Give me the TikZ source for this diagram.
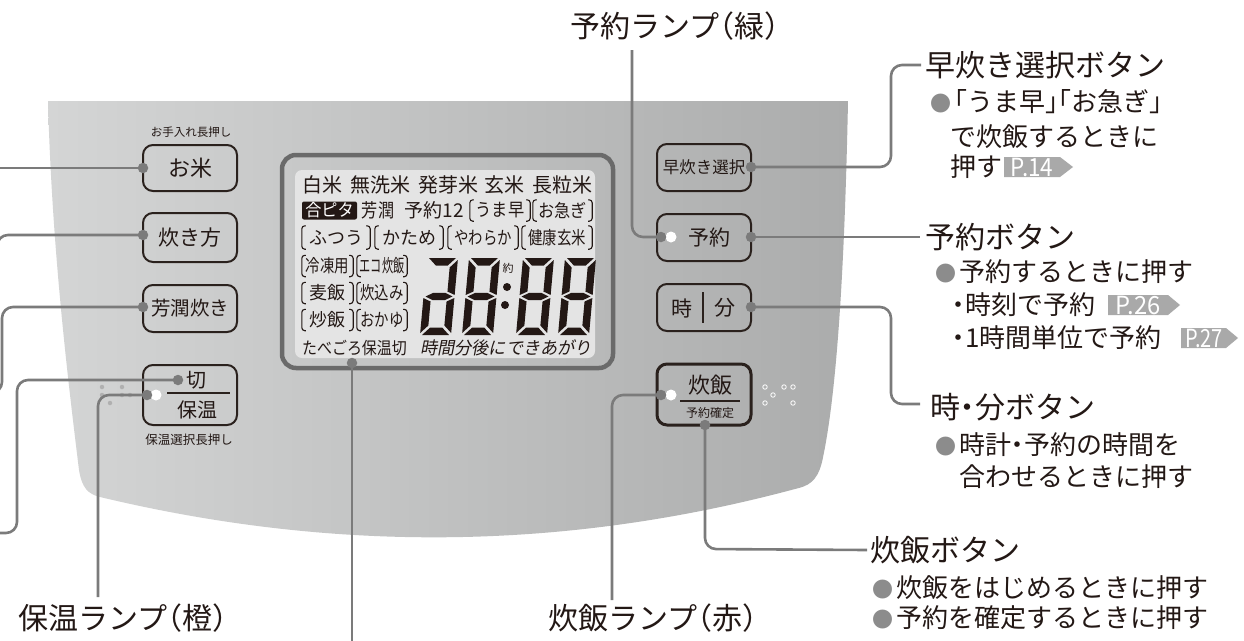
\documentclass[tikz,border=0pt]{standalone}
\usepackage{fontspec}
\usepackage{graphicx}
\newfontfamily\jp{Noto Sans CJK JP}
\newfontfamily\jph{Noto Sans CJK JP}[RawFeature=+halt]
\newfontfamily\jpit{Noto Sans CJK JP}[FakeSlant=0.2]
\definecolor{txtc}{HTML}{231815}
\definecolor{connc}{HTML}{7B7B7B}
\definecolor{bulc}{HTML}{8C8C8C}
\definecolor{tagc}{HTML}{A9A9A9}
\definecolor{btnc}{HTML}{2A211D}
\definecolor{lcdframe}{HTML}{6A6A6A}
\definecolor{lcdscreen}{HTML}{E4E4E4}
\definecolor{lcdc}{HTML}{231815}
\definecolor{panL}{HTML}{D4D5D5}
\definecolor{panR}{HTML}{ABACAC}
\definecolor{brl}{HTML}{B0B0B0}
\newcommand\fsz[1]{\fontsize{#1}{#1}\selectfont}
\newcommand\bul{{\color{bulc}\fsz{21}●}\hspace{3pt}}
\newcommand\sgA{\fill[seg] (2,0) -- (29,0) -- (21.5,7.5) -- (9.5,7.5) -- cycle;}
\newcommand\sgB{\fill[seg] (31,2) -- (31,37) -- (23.5,33.5) -- (23.5,9.5) -- cycle;}
\newcommand\sgC{\fill[seg] (31,40) -- (31,75) -- (23.5,67.5) -- (23.5,43.5) -- cycle;}
\newcommand\sgD{\fill[seg] (2,77) -- (29,77) -- (21.5,69.5) -- (9.5,69.5) -- cycle;}
\newcommand\sgE{\fill[seg] (0,40) -- (0,75) -- (7.5,67.5) -- (7.5,43.5) -- cycle;}
\newcommand\sgF{\fill[seg] (0,2) -- (0,37) -- (7.5,33.5) -- (7.5,9.5) -- cycle;}
\newcommand\sgG{\fill[seg] (2,38.5) -- (9.5,34.8) -- (21.5,34.8) -- (29,38.5) -- (21.5,42.2) -- (9.5,42.2) -- cycle;}
\newcommand\digitAt[2]{\begin{scope}[shift={(#1,258)}, xslant=0.091] #2 \end{scope}}
% bracketed LCD label: name, cx, cy, box width, box height, xscale, text
\newcommand\lcdb[7]{%
  \node[lcdt, minimum width=#4pt, minimum height=#5pt] (#1) at (#2,#3) {\scalebox{#6}[1]{#7}};
  \draw[brk] ([xshift=4pt]#1.north west) -- (#1.north west) -- (#1.south west) -- ([xshift=4pt]#1.south west);
  \draw[brk] ([xshift=-4pt]#1.north east) -- (#1.north east) -- (#1.south east) -- ([xshift=-4pt]#1.south east);}
\begin{document}
\begin{tikzpicture}[x=1pt,y=-1pt,
  conn/.style={draw=connc, line width=2.6pt, rounded corners=11pt},
  dot/.style={circle, fill=connc, inner sep=0pt, minimum size=10.5pt},
  lamp/.style={circle, fill=white, inner sep=0pt, minimum size=11pt},
  btn/.style={draw=btnc, line width=2pt, rounded corners=10pt, inner sep=0pt, minimum width=94pt, text=txtc, font=\jp\fsz{21}},
  btntxt/.style={inner sep=0pt, text=txtc, font=\jp\fsz{21}},
  small/.style={inner sep=0pt, text=txtc, font=\jp\fsz{12}},
  head/.style={anchor=west, inner sep=0pt, text=txtc, font=\jph\fsz{30}},
  headc/.style={inner sep=0pt, text=txtc, font=\jph\fsz{30}},
  body/.style={anchor=west, inner sep=0pt, text=txtc, font=\jph\fsz{26}},
  lcdt/.style={inner sep=0pt, text=lcdc, font=\jp\fsz{18}},
  brk/.style={draw=lcdc, line width=1.1pt, rounded corners=3pt},
  seg/.style={fill=lcdc},
  tagt/.style={inner sep=0pt, text=white, font=\jp\fsz{25}},
  brail/.style={circle, fill=brl, inner sep=0pt, minimum size=4.5pt},
  brailw/.style={circle, draw=white, line width=0.8pt, inner sep=0pt, minimum size=4.5pt}]
\useasboundingbox (0,0) rectangle (1244,640);
\fill[white] (0,0) rectangle (1244,640);

% ---------- panel ----------
\shade[left color=panL, right color=panR] (48,101) -- (848,101)
  .. controls (845,250) and (838,390) .. (822,462)
  .. controls (817,482) and (808,486) .. (795,489)
  .. controls (560,552) and (330,552) .. (100,497)
  .. controls (88,494) and (82,488) .. (79,470)
  .. controls (68,380) and (52,250) .. (48,101) -- cycle;

% braille-like dots
\foreach \px/\py [count=\i] in {102/387,122/387,102/395,122/395,130/395,110/403}
  \node[brail] (bl\i) at (\px,\py) {};
\foreach \px/\py [count=\i] in {765/387,784/387,793/387,773/395,765/403,793/403}
  \node[brailw] (br\i) at (\px,\py) {};

% ---------- LCD ----------
\node[draw=lcdframe, line width=4.5pt, rounded corners=14pt, minimum width=331pt, minimum height=213pt, inner sep=0pt] (lcd) at (447.5,261.5) {};
\node[fill=lcdscreen, rounded corners=7pt, minimum width=300pt, minimum height=188pt, inner sep=0pt] (screen) at (445,264) {};

% row 1
\node[lcdt, font=\jp\fsz{20}] (r1a) at (322,185) {白米};
\node[lcdt, font=\jp\fsz{20}] (r1b) at (380,185) {無洗米};
\node[lcdt, font=\jp\fsz{20}] (r1c) at (448,185) {発芽米};
\node[lcdt, font=\jp\fsz{20}] (r1d) at (504,185) {玄米};
\node[lcdt, font=\jp\fsz{20}] (r1e) at (562,185) {長粒米};
% row 2
\node[fill=lcdc, rounded corners=2pt, minimum width=55pt, minimum height=18pt, inner sep=0pt, text=white, font=\jp\fsz{17}] (gopita) at (329.5,210.5) {\scalebox{0.95}[1]{合ピタ}};
\node[lcdt, font=\jp\fsz{19}] (houjunl) at (378,210.5) {\scalebox{0.85}[1]{芳潤}};
\node[lcdt, font=\jp\fsz{19}] (yoyaku12) at (434,210.5) {予約12};
\lcdb{umahaya}{500}{210.5}{60}{21}{0.9}{うま早}
\lcdb{oisogi}{562.5}{210.5}{59}{21}{0.9}{お急ぎ}
% row 3
\lcdb{futsuu}{336}{237.5}{68}{23}{1}{ふつう}
\lcdb{katame}{409}{237.5}{68}{23}{1}{かため}
\lcdb{yawaraka}{483}{237.5}{70}{23}{0.8}{やわらか}
\lcdb{kenkou}{557}{237.5}{70}{23}{0.8}{健康玄米}
% rows 4-6
\lcdb{reitou}{327.5}{266}{51}{21}{0.8}{冷凍用}
\lcdb{eco}{382}{266}{50}{21}{0.62}{エコ炊飯}
\lcdb{mugi}{327.5}{293}{51}{21}{1}{麦飯}
\lcdb{takikomi}{382}{293}{50}{21}{0.8}{炊込み}
\lcdb{chahan}{327.5}{320}{51}{21}{1}{炒飯}
\lcdb{okayu}{382}{320}{50}{21}{0.8}{おかゆ}
% row 7
\node[lcdt, font=\jp\fsz{17}] (tabegoro) at (354.5,348) {\scalebox{0.88}[1]{たべごろ保温切}};
\node[lcdt, font=\jpit\fsz{17.5}] (dekiagari) at (506,348) {\scalebox{0.98}[1]{時間分後にできあがり}};
% big digits
\digitAt{427}{\sgA\sgB\sgC\sgD\sgE\sgG}
\digitAt{469}{\sgA\sgB\sgC\sgD\sgE\sgF\sgG}
\digitAt{523}{\sgA\sgB\sgC\sgD\sgE\sgF\sgG}
\digitAt{565}{\sgA\sgB\sgC\sgD\sgE\sgF\sgG}
\node[lcdt, font=\jp\fsz{11}] (yaku) at (508,268) {約};
\fill[lcdc] (507,287) circle (4);
\fill[lcdc] (505,305) circle (4);

% ---------- buttons ----------
\node[btn, minimum height=46pt, font=\jp\fsz{22}] (b-okome) at (190,168) {お米};
\node[btn, minimum height=49pt] (b-takikata) at (190,237.5) {炊き方};
\node[btn, minimum height=47pt, font=\jp\fsz{19.5}] (b-houjun) at (190,308.5) {芳潤炊き};
\node[btn, minimum height=60pt] (b-kiri) at (190,395) {};
\node[btntxt, font=\jp\fsz{20}] (t-kiri) at (196,380) {切};
\draw[btnc, line width=1.5pt] (167,393) -- (230,393);
\node[btntxt, font=\jp\fsz{20}] (t-hoon) at (197,410) {保温};
\node[small, font=\jp\fsz{11.5}] (t-oteire) at (191,132) {お手入れ長押し};
\node[small, font=\jp\fsz{12.5}] (t-hoonsel) at (189,440) {保温選択長押し};

\node[btn, minimum height=47pt, font=\jp\fsz{16.5}] (b-haya) at (704,167.5) {早炊き選択};
\node[btn, minimum height=47pt] (b-yoyaku) at (704,237.5) {};
\node[btntxt] (t-yoyaku) at (709,238) {予約};
\node[btn, minimum height=47pt] (b-jifun) at (704,307.5) {};
\node[btntxt] (t-ji) at (682,308) {時};
\draw[btnc, line width=2.5pt] (703,292) -- (703,323);
\node[btntxt] (t-fun) at (725,308) {分};
\node[btn, line width=3pt, minimum height=61pt] (b-suihan) at (704,394.5) {};
\node[btntxt, font=\jp\fsz{22}] (t-suihan) at (710,385) {炊飯};
\draw[btnc, line width=1.6pt] (680,401) -- (740,401);
\node[small] (t-kakutei) at (710,413) {予約確定};

% ---------- labels ----------
\node[headc] (l-yoyakulamp) at (675,26) {予約ランプ（緑）};
\node[headc] (l-hoonlamp) at (123,618) {保温ランプ（橙）};
\node[headc] (l-suihanlamp) at (653,618) {炊飯ランプ（赤）};
\node[head] (l-haya) at (925,65) {早炊き選択ボタン};
\node[head] (l-yoyaku) at (925,237) {予約ボタン};
\node[head] (l-jifun) at (930,407) {時・分ボタン};
\node[head] (l-suihan) at (870,550) {炊飯ボタン};

\node[body] (x-haya1) at (930,102) {\bul「うま早」「お急ぎ」};
\node[body] (x-haya2) at (950,137) {で炊飯するときに};
\node[body] (x-haya3) at (950,167) {押す};
\fill[tagc] (1004,157) -- (1060,157) -- (1073,167) -- (1060,177) -- (1004,177) -- cycle;
\node[tagt] (p14) at (1032,167) {\scalebox{0.9}[1]{P.14}};

\node[body] (x-yoy1) at (935,272) {\bul 予約するときに押す};
\node[body] (x-yoy2) at (952,305) {・時刻で予約};
\fill[tagc] (1108,295) -- (1168,295) -- (1180,305) -- (1168,315) -- (1108,315) -- cycle;
\node[tagt] (p26) at (1138,305) {\scalebox{0.95}[1]{P.26}};
\node[body] (x-yoy3) at (952,338) {・1時間単位で予約};
\fill[tagc] (1181,328) -- (1226,328) -- (1238,338) -- (1226,348) -- (1181,348) -- cycle;
\node[tagt] (p27) at (1204,338) {\scalebox{0.8}[1]{P.27}};

\node[body] (x-jf1) at (935,445) {\bul 時計・予約の時間を};
\node[body] (x-jf2) at (959,477) {合わせるときに押す};

\node[body] (x-sh1) at (872,588) {\bul 炊飯をはじめるときに押す};
\node[body] (x-sh2) at (872,618) {\bul 予約を確定するときに押す};

% ---------- connectors ----------
\coordinate (p-okome) at (143,168);
\coordinate (p-takikata) at (143,235);
\coordinate (p-houjun) at (143,307);
\coordinate (p-kiri) at (178,380);
\coordinate (p-hoonlamp) at (147,395);
\coordinate (p-haya) at (751,167);
\coordinate (p-yoyaku) at (751,237);
\coordinate (p-jifun) at (751,307);
\coordinate (p-yoyakulamp) at (661,237);
\coordinate (p-suihanlamp) at (661,395);
\coordinate (p-suihan) at (705,425);
\coordinate (p-lcd) at (352,363);

\coordinate (e-okome) at (-5,168);
\coordinate (e-takikata) at (-3,300);
\coordinate (e-houjun) at (-12,393);
\coordinate (e-kiri) at (-5,533);
\coordinate (e-lcd) at (352,645);

\draw[conn] (p-okome) -- (e-okome);
\draw[conn] (p-takikata) -- (-3,235) -- (e-takikata);
\draw[conn] (p-houjun) -- (2,307) -- (2,393) -- (e-houjun);
\draw[conn] (p-kiri) -- (17,380) -- (17,533) -- (e-kiri);
\draw[conn] (p-hoonlamp) -- (98,395) -- (98,597);
\draw[conn] (p-lcd) -- (e-lcd);
\draw[conn] (p-suihanlamp) -- (612,395) -- (612,600);
\draw[conn] (p-yoyakulamp) -- (632,237) -- (632,50);
\draw[conn] (p-haya) -- (891,167) -- (891,65) -- ([xshift=-4pt]l-haya.west);
\draw[conn] (p-yoyaku) -- ([xshift=-5pt]l-yoyaku.west);
\draw[conn] (p-jifun) -- (891,307) -- (891,404) -- ([xshift=-10pt]l-jifun.west |- 0,404);
\draw[conn] (p-suihan) -- (705,549) -- ([xshift=-3pt]l-suihan.west);

% dots and lamps
\node[lamp] (lamp-hoon) at (156,395) {};
\node[lamp] (lamp-yoyaku) at (671,237) {};
\node[lamp] (lamp-suihan) at (671,395) {};
\node[dot] (d-okome) at (p-okome) {};
\node[dot] (d-takikata) at (p-takikata) {};
\node[dot] (d-houjun) at (p-houjun) {};
\node[dot] (d-kiri) at (p-kiri) {};
\node[dot] (d-hoonlamp) at (p-hoonlamp) {};
\node[dot] (d-haya) at (p-haya) {};
\node[dot] (d-yoyaku) at (p-yoyaku) {};
\node[dot] (d-jifun) at (p-jifun) {};
\node[dot] (d-yoyakulamp) at (p-yoyakulamp) {};
\node[dot] (d-suihanlamp) at (p-suihanlamp) {};
\node[dot] (d-suihan) at (p-suihan) {};
\node[dot] (d-lcd) at (p-lcd) {};
\end{tikzpicture}
\end{document}
